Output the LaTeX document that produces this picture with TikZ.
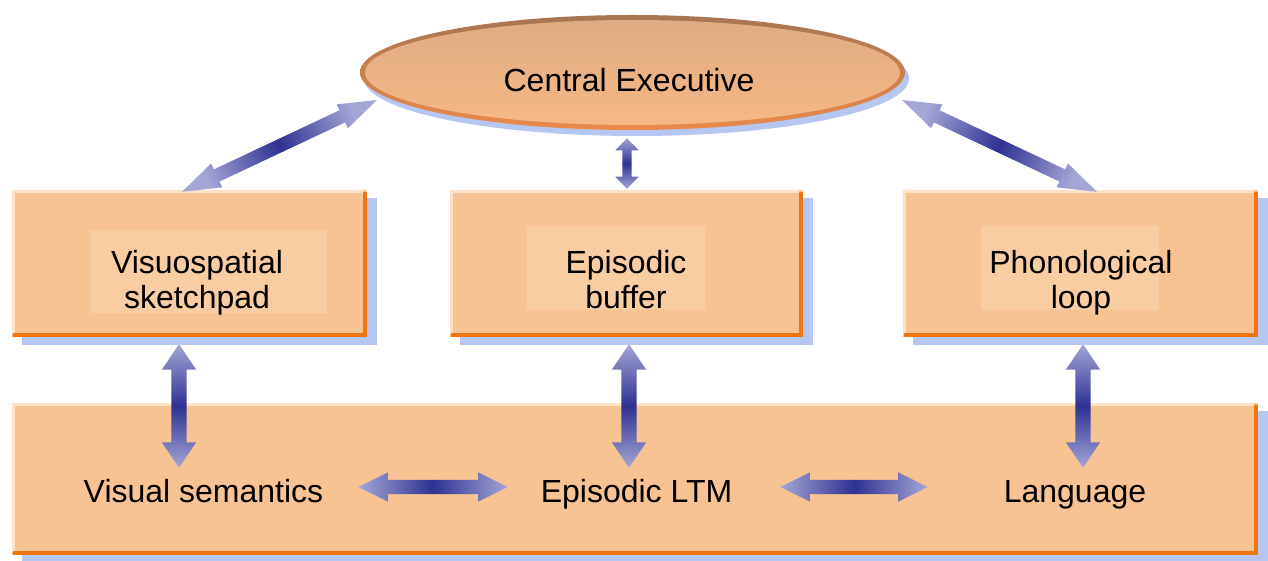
\documentclass[tikz,border=0pt]{standalone}
\usepackage{fontspec}
\setmainfont{Liberation Sans}
\usetikzlibrary{shapes.geometric,shapes.arrows,calc}
\definecolor{boxfill}{HTML}{F8C392}
\definecolor{innerfill}{HTML}{F9CDA2}
\definecolor{edgeor}{HTML}{EE7612}
\definecolor{edgelight}{HTML}{FCE2C8}
\definecolor{shadowblue}{HTML}{B5C7F0}
\definecolor{arrowlight}{HTML}{A4A6D6}
\definecolor{arrowdark}{HTML}{2E3192}
\definecolor{elltop}{HTML}{DFAC83}
\definecolor{ellbot}{HTML}{F6B885}
\definecolor{ellrimtop}{HTML}{A67652}
\definecolor{ellrimbot}{HTML}{EB8A4C}
\tikzset{
  boxnode/.style={rectangle, fill=boxfill, inner sep=0pt,
    preaction={fill=shadowblue, transform canvas={xshift=10pt, yshift=-8pt}}},
  innerrect/.style={rectangle, fill=innerfill, inner sep=0pt},
  lbl/.style={inner sep=0pt, font=\fontsize{32}{35}\selectfont, align=center, text=black},
  arrshade/.style={top color=arrowlight, bottom color=arrowlight, middle color=arrowdark},
  fatarrow/.style={double arrow, draw=none, inner xsep=0pt, minimum width=0pt, arrshade},
  arrV/.style={fatarrow, inner ysep=7.5pt, double arrow head extend=9.5pt, double arrow tip angle=68},
  arrH/.style={fatarrow, inner ysep=7pt, double arrow head extend=7.5pt, double arrow tip angle=53},
  arrD/.style={fatarrow, inner ysep=6.5pt, double arrow head extend=6.5pt, double arrow tip angle=38},
  arrS/.style={fatarrow, inner ysep=4.5pt, double arrow head extend=7pt, double arrow tip angle=88},
}
\newcommand{\mkbox}[5]{%
  \node[boxnode, minimum width=#4pt, minimum height=#5pt] (#1) at (#2,#3) {};
  \draw[edgelight, line width=3pt] ($(#1.south west)+(1.5,-3)$) -- ($(#1.north west)+(1.5,1.5)$) -- ($(#1.north east)+(-4,1.5)$);
  \draw[edgeor, line width=4.5pt] ($(#1.north east)+(-2.25,2)$) -- ($(#1.south east)+(-2.25,-2.25)$) -- ($(#1.south west)+(1,-2.25)$);
}
\newcommand{\fatconn}[4]{%
  \path let \p1=($(#4)-(#3)$), \n1={veclen(\x1,\y1)}, \n2={atan2(\y1,\x1)}, \n3={atan2(\y1,\x1)-90} in
    node[#1, minimum height=\n1, rotate=\n2, shading angle=\n3] (#2) at ($(#3)!0.5!(#4)$) {};
}
\begin{document}
\begin{tikzpicture}[x=1pt,y=-1pt]
\useasboundingbox (0,0) rectangle (1268,561);
\fill[white] (0,0) rectangle (1268,561);

% central executive
\node[ellipse, minimum width=545pt, minimum height=115pt, inner sep=0pt,
  top color=ellrimtop, bottom color=ellrimbot,
  preaction={fill=shadowblue, transform canvas={xshift=4pt, yshift=-6pt}}] (ce) at (632.5,72.5) {};
\node[ellipse, minimum width=535pt, minimum height=105pt, inner sep=0pt,
  top color=elltop, bottom color=ellbot] (cein) at (ce.center) {};
\node[lbl, anchor=base] (cetext) at (629,92) {Central Executive};

% boxes
\mkbox{vs}{189.5}{263.5}{355}{147}
\mkbox{eb}{626.5}{263.5}{353}{147}
\mkbox{pl}{1080.5}{263.5}{355}{147}
\mkbox{ltm}{635}{479}{1246}{152}

\node[innerrect, minimum width=237pt, minimum height=83pt] (vsin) at (208.5,271.5) {};
\node[innerrect, minimum width=178pt, minimum height=84pt] (ebin) at (616,268) {};
\node[innerrect, minimum width=178pt, minimum height=84pt] (plin) at (1070,268) {};

\node[lbl] (vstext) at (197,283.5) {\strut Visuospatial\\sketchpad\strut};
\node[lbl] (ebtext) at (626,283.5) {\strut Episodic\\buffer\strut};
\node[lbl] (pltext) at (1081,283.5) {\strut Phonological\\loop\strut};

\node[lbl, anchor=base] (vsem) at (203.5,502) {Visual semantics};
\node[lbl, anchor=base] (eltm) at (636.5,502) {Episodic LTM};
\node[lbl, anchor=base] (lang) at (1075,502) {Language};

% arrows
\coordinate (d1a) at ($(vs.north)+(-7.5,2)$);
\coordinate (d1b) at ($(ce.center)+(-255.5,27.5)$);
\fatconn{arrD}{a1}{d1a}{d1b}
\coordinate (d2a) at ($(ce.center)+(269.5,27.5)$);
\coordinate (d2b) at ($(pl.north)+(16.5,2)$);
\fatconn{arrD}{a2}{d2a}{d2b}
\coordinate (s1a) at ($(ce.south)+(-5.5,8)$);
\coordinate (s1b) at ($(eb.north)+(0.5,-1)$);
\fatconn{arrS}{a3}{s1a}{s1b}

\coordinate (v1a) at ($(vs.south)+(-10.5,7)$);
\coordinate (v1b) at ($(vs.south |- ltm.north)+(-10.5,65)$);
\fatconn{arrV}{a4}{v1a}{v1b}
\coordinate (v2a) at ($(eb.south)+(2.5,7)$);
\coordinate (v2b) at ($(eb.south |- ltm.north)+(2.5,65)$);
\fatconn{arrV}{a5}{v2a}{v2b}
\coordinate (v3a) at ($(pl.south)+(2.5,7)$);
\coordinate (v3b) at ($(pl.south |- ltm.north)+(2.5,65)$);
\fatconn{arrV}{a6}{v3a}{v3b}

\coordinate (h1a) at ($(vsem.base east)+(35,-15)$);
\coordinate (h1b) at ($(eltm.base west)+(-33,-15)$);
\fatconn{arrH}{a7}{h1a}{h1b}
\coordinate (h2a) at ($(eltm.base east)+(48,-15)$);
\coordinate (h2b) at ($(lang.base west)+(-76,-15)$);
\fatconn{arrH}{a8}{h2a}{h2b}
\end{tikzpicture}
\end{document}
